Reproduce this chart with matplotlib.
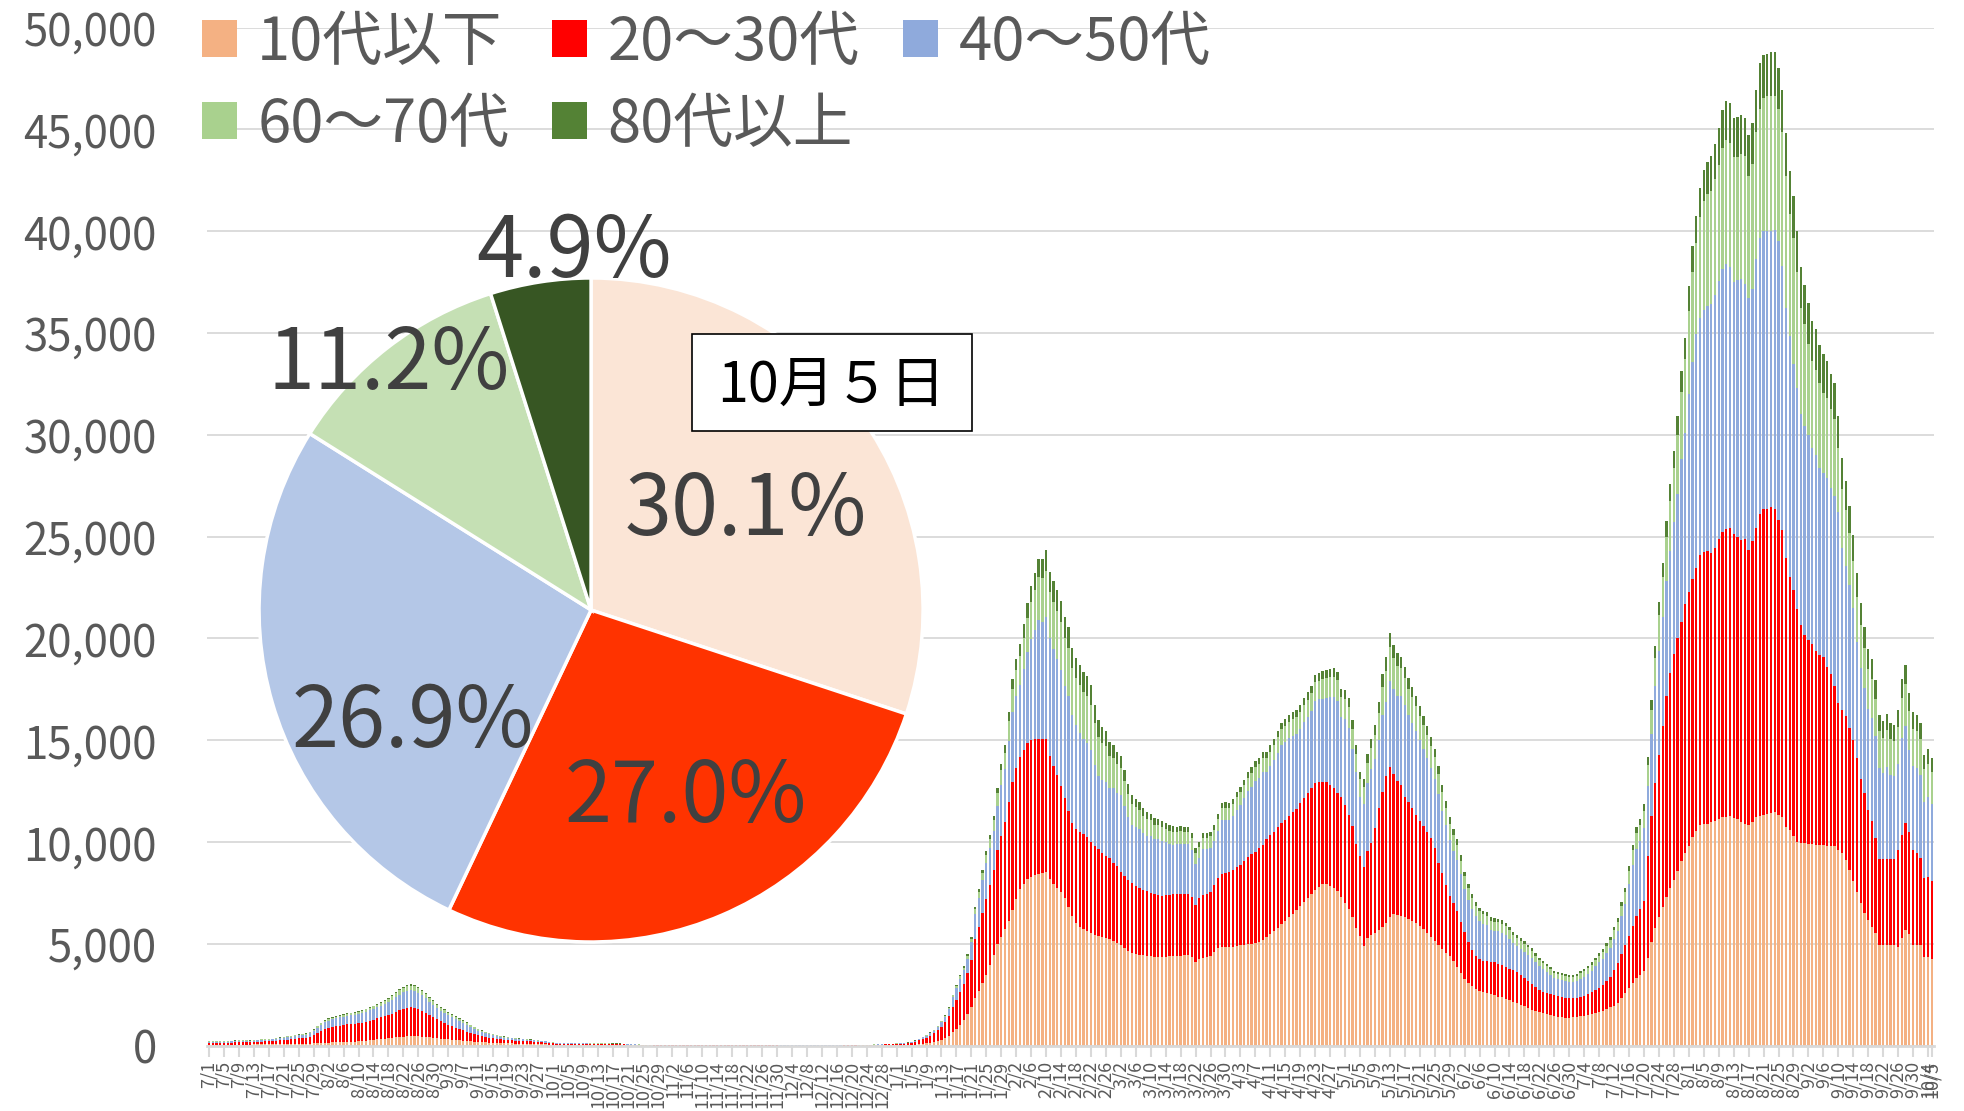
import datetime as dt
import matplotlib
matplotlib.use("Agg")
import matplotlib.pyplot as plt
from matplotlib.patches import Rectangle
import numpy as np

plt.rcParams["font.family"] = ["Noto Sans CJK JP", "DejaVu Sans"]

# daily cases by age group, one value per day from 2021/7/1 to 2022/10/5
start_date = dt.date(2021, 7, 1)

age_u10 = [
    45, 48, 50, 52, 50, 47, 55, 58, 60, 62,
    60, 58, 65, 68, 70, 72, 70, 68, 75, 80,
    85, 88, 90, 95, 98, 100, 95, 105, 115, 125,
    140, 150, 160, 165, 170, 175, 180, 190, 195, 200,
    215, 230, 250, 270, 290, 310, 330, 350, 370, 390,
    410, 430, 450, 465, 470, 470, 460, 450, 430, 410,
    390, 370, 350, 330, 310, 290, 280, 265, 250, 235,
    220, 205, 190, 180, 170, 160, 150, 140, 130, 125,
    120, 115, 110, 105, 100, 95, 90, 85, 80, 75,
    70, 62, 55, 48, 45, 42, 42, 41, 40, 40,
    40, 40, 39, 39, 38, 38, 37, 37, 36, 36,
    35, 33, 30, 27, 24, 21, 19, 17, 15, 13,
    11, 10, 10, 10, 10, 10, 10, 10, 10, 10,
    10, 10, 10, 10, 10, 10, 10, 10, 10, 10,
    10, 10, 10, 10, 10, 10, 10, 10, 10, 10,
    8, 8, 6, 6, 5, 5, 5, 5, 5, 5,
    5, 5, 5, 5, 5, 5, 5, 5, 5, 5,
    6, 8, 10, 12, 14, 15, 16, 18, 20, 20,
    22, 25, 28, 30, 30, 33, 37, 41, 45, 62,
    80, 100, 120, 150, 185, 240, 300, 380, 490, 660,
    800, 1000, 1250, 1550, 1900, 2350, 2700, 3100, 3500, 3950,
    4450, 5000, 5350, 5750, 6150, 6650, 7200, 7700, 7950, 8200,
    8300, 8400, 8450, 8500, 8550, 8200, 7950, 7750, 7550, 7250,
    6800, 6350, 6050, 5850, 5750, 5650, 5550, 5450, 5400, 5350,
    5300, 5250, 5150, 5050, 4950, 4800, 4650, 4580, 4520, 4480,
    4450, 4430, 4400, 4380, 4370, 4370, 4380, 4390, 4400, 4410,
    4420, 4440, 4450, 4350, 4090, 4250, 4320, 4350, 4400, 4600,
    4800, 4840, 4840, 4850, 4870, 4900, 4930, 4960, 4990, 5010,
    5060, 5120, 5180, 5320, 5480, 5640, 5800, 5970, 6130, 6300,
    6470, 6650, 6850, 7050, 7250, 7450, 7650, 7800, 7940, 7950,
    7850, 7750, 7600, 7300, 7000, 6700, 6300, 5800, 5400, 4920,
    5300, 5450, 5550, 5690, 5850, 6050, 6300, 6450, 6400, 6350,
    6300, 6250, 6150, 6050, 5900, 5750, 5550, 5350, 5150, 4950,
    4750, 4550, 4400, 4150, 3850, 3550, 3300, 3100, 2950, 2800,
    2700, 2630, 2580, 2530, 2480, 2420, 2380, 2320, 2250, 2170,
    2080, 2000, 1930, 1860, 1780, 1720, 1660, 1600, 1550, 1500,
    1460, 1430, 1400, 1380, 1380, 1390, 1410, 1440, 1480, 1520,
    1570, 1620, 1670, 1730, 1800, 1880, 1960, 2100, 2350, 2600,
    2850, 3100, 3350, 3500, 3650, 4300, 5100, 5800, 6300, 6800,
    7300, 7750, 8150, 8600, 9050, 9450, 9800, 10260, 10550, 10830,
    10870, 10900, 10980, 11060, 11140, 11220, 11250, 11280, 11200, 11120,
    11000, 10900, 10830, 11000, 11220, 11300, 11350, 11380, 11420, 11470,
    11350, 11220, 10740, 10580, 10300, 10000, 9970, 9940, 9920, 9900,
    9880, 9860, 9840, 9820, 9800, 9790, 9620, 9460, 9130, 8640,
    8070, 7530, 7000, 6510, 6180, 5850, 5530, 4950, 4950, 4950,
    4950, 4950, 4850, 5300, 5700, 5500, 4950, 4950, 4950, 4380,
    4380, 4250,
]

age_20_30 = [
    95, 98, 100, 100, 98, 95, 105, 108, 110, 112,
    110, 108, 115, 120, 130, 145, 150, 155, 170, 185,
    200, 215, 230, 250, 270, 290, 300, 350, 420, 520,
    600, 680, 730, 760, 790, 820, 840, 860, 870, 880,
    890, 910, 940, 970, 1000, 1030, 1060, 1100, 1140, 1190,
    1250, 1320, 1380, 1410, 1420, 1400, 1350, 1280, 1200, 1110,
    1020, 930, 850, 780, 720, 660, 610, 560, 510, 460,
    410, 370, 330, 300, 270, 240, 215, 195, 180, 170,
    160, 150, 145, 140, 135, 130, 125, 120, 110, 100,
    90, 78, 66, 56, 50, 48, 47, 46, 46, 45,
    45, 45, 44, 44, 44, 43, 43, 42, 42, 41,
    40, 37, 33, 29, 26, 23, 20, 18, 16, 14,
    12, 12, 12, 12, 12, 12, 12, 12, 12, 12,
    12, 12, 12, 12, 12, 12, 12, 12, 12, 12,
    12, 12, 12, 12, 12, 12, 12, 12, 12, 12,
    10, 9, 8, 7, 6, 6, 5, 5, 5, 5,
    5, 5, 5, 5, 5, 5, 5, 5, 5, 5,
    8, 10, 12, 15, 18, 20, 22, 25, 28, 30,
    35, 40, 45, 50, 60, 65, 75, 83, 90, 135,
    185, 235, 285, 355, 420, 520, 630, 770, 950, 1230,
    1430, 1650, 1800, 2000, 2300, 2900, 3150, 3400, 3700, 3950,
    4200, 4600, 4950, 5250, 5800, 6300, 6450, 6500, 6550, 6650,
    6700, 6650, 6600, 6550, 6500, 6050, 5800, 5550, 5200, 4900,
    4750, 4600, 4600, 4650, 4650, 4600, 4450, 4350, 4250, 4100,
    4000, 3950, 3850, 3800, 3600, 3550, 3480, 3420, 3330, 3250,
    3200, 3150, 3100, 3050, 3020, 3000, 3010, 3020, 3030, 3040,
    3040, 3030, 3020, 2950, 2810, 3000, 3100, 3120, 3140, 3300,
    3450, 3600, 3650, 3700, 3780, 3900, 3970, 4100, 4270, 4400,
    4480, 4570, 4700, 4850, 4850, 4870, 4920, 4950, 4970, 5000,
    5000, 5000, 5050, 5100, 5150, 5200, 5250, 5150, 5000, 4990,
    4950, 4900, 4800, 4900, 4800, 4650, 4500, 4100, 3900, 3880,
    4250, 4500, 5140, 6000, 6600, 7200, 7400, 6900, 6600, 6450,
    5900, 5700, 5550, 5300, 5160, 5050, 4950, 4850, 4550, 4050,
    3750, 3350, 2970, 2850, 2750, 2550, 2300, 2000, 1750, 1600,
    1550, 1540, 1560, 1580, 1610, 1600, 1580, 1560, 1530, 1530,
    1520, 1470, 1390, 1310, 1240, 1160, 1100, 1040, 1030, 1030,
    1020, 1000, 990, 970, 960, 950, 930, 940, 970, 1010,
    1050, 1110, 1180, 1270, 1380, 1490, 1740, 1950, 2150, 2350,
    2550, 2800, 3000, 3230, 3450, 5000, 6200, 7100, 8000, 8900,
    9900, 10550, 11080, 11400, 11750, 12250, 12500, 12660, 12910, 13270,
    13390, 13390, 13220, 13390, 13730, 14000, 14130, 14140, 13930, 13850,
    13840, 14000, 13530, 13770, 14230, 14790, 15030, 15000, 15020, 14910,
    14450, 14100, 13230, 12430, 12070, 11470, 10700, 10250, 10010, 9810,
    9510, 9310, 9230, 8770, 8470, 7900, 7220, 7040, 7050, 6970,
    6960, 6600, 6120, 5900, 5410, 5170, 4670, 4200, 4200, 4200,
    4200, 4200, 4770, 5060, 5230, 4980, 4640, 4540, 4260, 3880,
    3930, 3820,
]

age_40_50 = [
    55, 56, 57, 58, 56, 54, 60, 62, 63, 65,
    64, 63, 70, 75, 80, 86, 88, 90, 98, 105,
    110, 118, 125, 132, 140, 148, 150, 170, 200, 245,
    290, 325, 350, 370, 390, 405, 415, 425, 435, 445,
    455, 470, 490, 510, 530, 550, 570, 600, 640, 680,
    720, 760, 800, 820, 830, 820, 790, 750, 700, 650,
    610, 570, 530, 500, 470, 440, 420, 395, 370, 340,
    300, 265, 230, 200, 180, 165, 150, 135, 120, 110,
    100, 95, 90, 85, 80, 75, 70, 65, 60, 55,
    52, 44, 38, 32, 30, 29, 29, 28, 28, 28,
    28, 28, 27, 27, 27, 26, 26, 26, 25, 25,
    24, 22, 20, 18, 16, 14, 12, 11, 10, 9,
    8, 8, 8, 8, 8, 8, 8, 8, 8, 8,
    8, 8, 8, 8, 8, 8, 8, 8, 8, 8,
    8, 8, 8, 8, 8, 8, 8, 8, 8, 8,
    7, 6, 5, 5, 4, 4, 4, 4, 4, 4,
    4, 4, 4, 4, 4, 4, 4, 4, 4, 4,
    5, 6, 7, 8, 9, 10, 11, 12, 13, 14,
    15, 16, 17, 18, 20, 22, 25, 28, 31, 45,
    64, 79, 98, 122, 145, 180, 224, 284, 365, 494,
    610, 640, 650, 720, 880, 1230, 1410, 1650, 1770, 1830,
    1920, 2190, 2510, 2570, 3040, 3450, 3520, 3540, 4020, 4490,
    4990, 5360, 5880, 5760, 5990, 5770, 5750, 5710, 5690, 5520,
    5630, 5270, 5080, 4840, 4660, 4640, 4520, 4000, 3620, 3610,
    3670, 3480, 3640, 3570, 3760, 3430, 3110, 2850, 2890, 2910,
    2800, 2740, 2810, 2730, 2740, 2680, 2600, 2490, 2430, 2440,
    2460, 2420, 2420, 2310, 2030, 1960, 2240, 2190, 2190, 2150,
    2300, 2630, 2620, 2520, 2630, 2800, 2920, 3090, 3250, 3310,
    3450, 3470, 3550, 3260, 3390, 3520, 3670, 3840, 3820, 3820,
    3760, 3670, 3660, 3730, 3750, 3790, 4050, 4060, 4100, 4140,
    4320, 4480, 4540, 3940, 4240, 4270, 3780, 3520, 2910, 3060,
    3340, 3630, 3410, 3350, 3780, 3640, 4230, 4180, 4180, 4360,
    4530, 4290, 4170, 4090, 3940, 3770, 3630, 3440, 3420, 3350,
    3040, 2920, 2730, 2580, 2540, 2320, 2100, 2060, 2000, 1950,
    1860, 1800, 1770, 1570, 1540, 1600, 1580, 1550, 1470, 1350,
    1310, 1290, 1300, 1300, 1310, 1220, 1140, 1110, 1030, 940,
    840, 830, 840, 830, 770, 770, 840, 910, 930, 990,
    1070, 1170, 1250, 1270, 1370, 1450, 1550, 1580, 1850, 2030,
    2530, 2980, 3320, 3310, 3570, 3450, 3990, 4750, 5090, 5360,
    5610, 6010, 6490, 7100, 8010, 8380, 9700, 10670, 11470, 11640,
    11890, 12020, 12240, 12410, 12690, 12920, 13010, 12820, 12370, 12620,
    12820, 12530, 12340, 12410, 13170, 13590, 13620, 13620, 13560, 13680,
    13700, 12980, 12250, 11860, 11120, 10840, 10360, 10260, 10040, 9620,
    9620, 9190, 9040, 9290, 9130, 9300, 9390, 7950, 7390, 7000,
    6480, 5720, 5430, 5140, 4970, 5100, 5000, 4510, 4230, 4550,
    4170, 4100, 4230, 4760, 4770, 4050, 4170, 4170, 4110, 3730,
    3910, 3800,
]

age_60_70 = [
    25, 25, 26, 26, 25, 24, 27, 28, 28, 29,
    28, 28, 30, 31, 32, 33, 32, 32, 34, 36,
    38, 40, 42, 44, 45, 46, 45, 50, 55, 62,
    70, 75, 78, 80, 82, 84, 86, 88, 90, 92,
    96, 100, 105, 110, 118, 125, 135, 145, 160, 175,
    190, 205, 220, 228, 230, 226, 218, 205, 192, 180,
    168, 156, 145, 135, 126, 118, 110, 103, 96, 90,
    82, 74, 66, 60, 55, 50, 46, 42, 38, 35,
    33, 31, 29, 27, 25, 24, 23, 22, 21, 20,
    19, 16, 13, 11, 10, 10, 10, 10, 10, 10,
    10, 10, 10, 10, 10, 10, 10, 9, 9, 9,
    9, 8, 8, 7, 7, 6, 6, 6, 5, 5,
    5, 5, 5, 5, 5, 5, 5, 5, 5, 5,
    5, 5, 5, 5, 5, 5, 5, 5, 5, 5,
    5, 5, 5, 5, 5, 5, 5, 5, 5, 5,
    4, 4, 4, 4, 4, 4, 4, 4, 4, 4,
    4, 4, 4, 4, 4, 4, 4, 4, 4, 4,
    4, 4, 5, 5, 5, 5, 5, 5, 5, 5,
    5, 5, 6, 6, 6, 7, 8, 9, 10, 13,
    16, 19, 19, 23, 28, 35, 43, 53, 67, 88,
    105, 120, 136, 157, 187, 239, 296, 332, 401, 435,
    514, 621, 727, 826, 975, 1135, 1261, 1380, 1521, 1673,
    1818, 1948, 2093, 2177, 2298, 2281, 2315, 2349, 2367, 2356,
    2376, 2325, 2335, 2357, 2315, 2288, 2231, 2049, 1903, 1806,
    1729, 1567, 1500, 1415, 1345, 1232, 1124, 1036, 976, 920,
    858, 803, 757, 703, 701, 695, 650, 644, 641, 602,
    604, 602, 602, 585, 544, 560, 548, 548, 552, 559,
    584, 583, 586, 583, 594, 611, 623, 640, 659, 670,
    685, 693, 708, 708, 723, 739, 758, 778, 786, 797,
    803, 807, 820, 836, 851, 866, 893, 924, 953, 969,
    972, 986, 1003, 982, 1003, 1016, 985, 929, 866, 872,
    1002, 1056, 1158, 1301, 1404, 1537, 1631, 1517, 1486, 1373,
    1338, 1299, 1269, 1235, 1200, 1166, 1130, 1092, 1050, 988,
    923, 865, 808, 766, 732, 674, 616, 572, 536, 508,
    489, 477, 473, 454, 450, 450, 443, 434, 420, 404,
    392, 381, 369, 358, 346, 328, 312, 300, 289, 277,
    266, 261, 258, 254, 249, 249, 254, 263, 270, 282,
    295, 312, 328, 341, 364, 385, 420, 450, 508, 559,
    634, 711, 773, 803, 854, 1020, 1223, 1412, 1743, 1945,
    2190, 2425, 2631, 2907, 3311, 3651, 4103, 4390, 4490, 4960,
    5350, 5510, 5550, 5700, 5710, 5930, 6100, 6100, 6150, 6050,
    6150, 6250, 6000, 6100, 6250, 6310, 6540, 6630, 6630, 6570,
    6500, 6570, 6470, 5990, 6190, 5670, 5190, 4970, 4480, 4320,
    4160, 4170, 3940, 3910, 3850, 3780, 3100, 2900, 2750, 2550,
    2300, 2200, 2100, 2000, 1950, 1900, 1850, 1790, 1750, 1790,
    1740, 1730, 1810, 1980, 2060, 1900, 1800, 1790, 1740, 1600,
    1630, 1580,
]

age_80 = [
    10, 10, 10, 10, 10, 10, 10, 10, 10, 10,
    10, 10, 10, 10, 10, 10, 10, 10, 10, 10,
    12, 12, 13, 13, 14, 14, 14, 15, 16, 18,
    20, 22, 24, 25, 26, 27, 28, 29, 30, 31,
    32, 34, 36, 38, 40, 42, 44, 46, 48, 50,
    52, 55, 58, 60, 60, 60, 58, 56, 54, 52,
    50, 48, 46, 44, 42, 40, 38, 36, 34, 32,
    30, 28, 26, 24, 22, 20, 19, 18, 17, 16,
    15, 14, 13, 12, 11, 10, 10, 9, 9, 8,
    7, 6, 5, 5, 5, 5, 5, 5, 5, 5,
    5, 5, 5, 5, 5, 5, 5, 5, 5, 5,
    5, 5, 4, 4, 4, 4, 3, 3, 3, 3,
    3, 3, 3, 3, 3, 3, 3, 3, 3, 3,
    3, 3, 3, 3, 3, 3, 3, 3, 3, 3,
    3, 3, 3, 3, 3, 3, 3, 3, 3, 3,
    2, 2, 2, 2, 2, 2, 2, 2, 2, 2,
    2, 2, 2, 2, 2, 2, 2, 2, 2, 2,
    2, 2, 2, 2, 2, 2, 2, 2, 2, 2,
    2, 2, 3, 3, 4, 4, 4, 4, 5, 5,
    6, 7, 8, 10, 12, 15, 18, 23, 28, 38,
    45, 53, 58, 67, 80, 102, 126, 143, 172, 186,
    220, 266, 312, 354, 418, 487, 541, 591, 652, 717,
    780, 835, 897, 933, 985, 978, 992, 1007, 1015, 1010,
    1018, 997, 1000, 1010, 992, 981, 956, 878, 815, 774,
    741, 671, 643, 607, 576, 528, 482, 444, 419, 394,
    368, 344, 325, 301, 300, 298, 278, 276, 275, 258,
    259, 258, 258, 250, 233, 240, 235, 235, 237, 239,
    250, 250, 251, 250, 255, 262, 267, 274, 282, 287,
    293, 297, 303, 303, 310, 317, 325, 333, 337, 341,
    344, 346, 351, 359, 365, 371, 383, 396, 409, 415,
    416, 423, 430, 421, 430, 435, 422, 398, 371, 374,
    430, 453, 496, 558, 601, 659, 699, 650, 637, 534,
    521, 505, 494, 480, 467, 453, 440, 424, 408, 384,
    359, 337, 314, 298, 284, 262, 240, 223, 208, 197,
    190, 186, 184, 177, 175, 175, 172, 169, 163, 157,
    153, 148, 144, 139, 135, 127, 121, 117, 112, 108,
    103, 101, 101, 99, 97, 97, 99, 102, 105, 109,
    115, 121, 127, 133, 142, 150, 163, 175, 197, 217,
    247, 276, 301, 312, 332, 397, 476, 549, 654, 712,
    773, 827, 877, 928, 993, 1043, 1194, 1300, 1350, 1420,
    1500, 1580, 1680, 1730, 1800, 1860, 1900, 1950, 1900, 1950,
    1900, 1900, 2000, 2050, 2080, 2250, 2110, 2090, 2150, 2150,
    2000, 2080, 2120, 2090, 2050, 2020, 2020, 1920, 2020, 1930,
    2020, 1860, 1920, 1860, 1760, 1760, 1600, 1500, 1400, 1350,
    1250, 1150, 1080, 1030, 980, 950, 900, 810, 800, 820,
    790, 790, 820, 900, 940, 870, 820, 810, 790, 710,
    720, 690,
]

series_names = ["10代以下", "20〜30代", "40〜50代", "60〜70代", "80代以上"]
bar_colors = ["#F4B183", "#FF0000", "#8FAADC", "#A9D18E", "#548235"]
series = [age_u10, age_20_30, age_40_50, age_60_70, age_80]

# age breakdown on the last day (pie)
pie_title = "10月５日"
pie_shares = [30.1, 27.0, 26.9, 11.2, 4.9]
pie_colors = ["#FBE5D6", "#FF3300", "#B4C7E7", "#C5E0B4", "#375623"]
# label centres inside the pie axes (radius = 1)
pie_label_pos = [(0.467, 0.300), (0.286, -0.567), (-0.536, -0.340),
                 (-0.611, 0.740), (-0.051, 1.077)]

n_days = len(age_u10)
dates = [start_date + dt.timedelta(days=i) for i in range(n_days)]
tick_idx = list(range(0, n_days, 4)) + [n_days - 1]
tick_labels = [f"{dates[i].month}/{dates[i].day}" for i in tick_idx]

grey = "#595959"
fig = plt.figure(figsize=(19.64, 11.11), dpi=100)
ax = fig.add_axes([0.1053, 0.0587, 0.8794, 0.9165])

x = np.arange(n_days)
bottom = np.zeros(n_days)
handles = []
for name, vals, col in zip(series_names, series, bar_colors):
    vals = np.array(vals, dtype=float)
    h = ax.bar(x, vals, width=0.62, bottom=bottom, color=col, label=name,
               linewidth=0, zorder=2)
    bottom += vals
    handles.append(h)

ax.set_xlim(-0.6, n_days - 0.4)
ax.set_ylim(0, 50000)
ax.set_yticks(range(0, 50001, 5000))
ax.set_yticklabels([f"{v:,}" for v in range(0, 50001, 5000)], fontsize=31.5, color=grey)
ax.set_xticks(tick_idx)
ax.set_xticklabels(tick_labels, rotation=90, fontsize=13, color=grey)
ax.tick_params(axis="y", length=0, pad=36)
ax.tick_params(axis="x", length=8, width=1.5, color="#D9D9D9", pad=3)
ax.yaxis.grid(True, color="#D9D9D9", linewidth=1.3)
ax.set_axisbelow(True)
for s in ["top", "right", "left"]:
    ax.spines[s].set_visible(False)
ax.spines["bottom"].set_color("#D9D9D9")
ax.spines["bottom"].set_linewidth(2)

order = [0, 3, 1, 4, 2]
ax.legend([handles[i] for i in order], [series_names[i] for i in order],
          ncol=3, loc="upper left", bbox_to_anchor=(0.0905, 1.010),
          bbox_transform=fig.transFigure, frameon=False, fontsize=43,
          handlelength=0.59, handleheight=0.59, handletextpad=0.34,
          columnspacing=0.72, labelspacing=0.35, labelcolor=grey,
          borderaxespad=0)

# pie of the last day's shares
pax = fig.add_axes([0.1319, 0.1521, 0.3381, 0.5977])
pax.pie(pie_shares, colors=pie_colors, startangle=90, counterclock=False,
        wedgeprops=dict(edgecolor="white", linewidth=2.5))
pax.set_xlim(-1, 1)
pax.set_ylim(-1, 1)
pax.set_aspect("equal")
for v, (px, py) in zip(pie_shares, pie_label_pos):
    pax.text(px, py, f"{v:.1f}%", ha="center", va="center", fontsize=61,
             color="#404040", clip_on=False)

fig.patches.append(Rectangle((692 / 1964, 1 - 431 / 1111), 280 / 1964, 97 / 1111,
                             transform=fig.transFigure, facecolor="white",
                             edgecolor="black", linewidth=1.2))
fig.text(831 / 1964, 1 - 386 / 1111, pie_title, ha="center", va="center",
         fontsize=40, color="black")

fig.savefig("out.png", dpi=100)
